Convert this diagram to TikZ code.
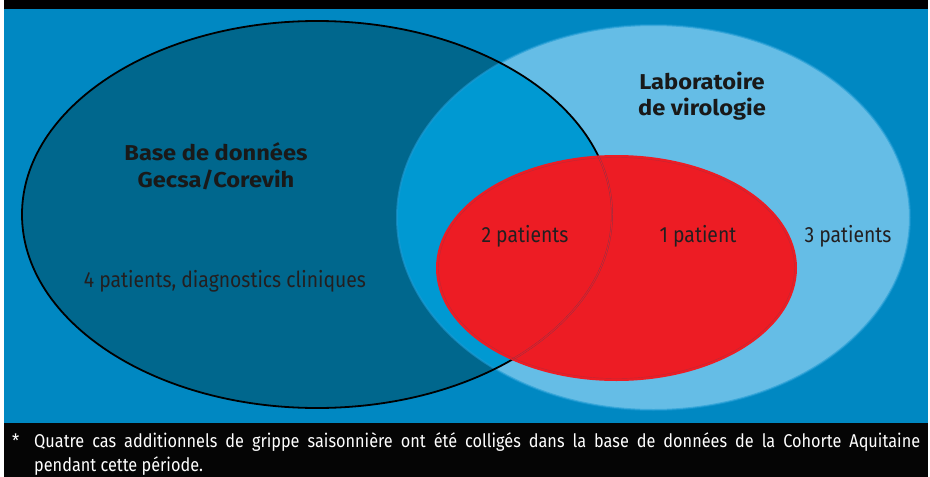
\documentclass[tikz,border=0pt]{standalone}
\usepackage{fontspec}
\setmainfont{Fira Sans}
\newfontfamily\condfont[FakeStretch=0.88]{Fira Sans}
\newfontfamily\titlefont[FakeStretch=1.1]{Fira Sans}

\definecolor{bgblue}{HTML}{0088C2}
\definecolor{darkset}{HTML}{00678D}
\definecolor{lightset}{HTML}{65BDE6}
\definecolor{bothset}{HTML}{0099D2}
\definecolor{rimblue}{HTML}{1E9AD3}
\definecolor{redset}{HTML}{ED1C24}
\definecolor{labeltext}{HTML}{231F20}
\definecolor{seamline}{HTML}{8C3347}

\begin{document}
\begin{tikzpicture}[x=1pt,y=-1pt,
    title/.style={font=\titlefont\bfseries\fontsize{21.5}{26.5}\selectfont, text=black!90, align=center},
    count/.style={font=\condfont\fontsize{22}{25}\selectfont, text=labeltext, anchor=base},
    note/.style={font=\condfont\fontsize{18.5}{24}\selectfont, text=white, anchor=base west, inner sep=0pt}]
  \useasboundingbox (0,0) rectangle (930,477);

  % frame and bands
  \fill[black] (4,0) rectangle (928,9);
  \fill[bgblue] (4,9) rectangle (928,423);
  \fill[black!98] (4,423) rectangle (928,477);

  % the two sets
  \fill[lightset] (653.5,217.5) ellipse [x radius=256.5pt, y radius=192.5pt];
  \fill[darkset] (317,214.5) ellipse [x radius=295pt, y radius=193.5pt];
  \begin{scope}
    \clip (317,214.5) ellipse [x radius=295pt, y radius=193.5pt];
    \fill[bothset] (653.5,217.5) ellipse [x radius=256.5pt, y radius=192.5pt];
  \end{scope}
  \draw[rimblue, opacity=0.6, line width=2pt] (653.5,217.5) ellipse [x radius=256.5pt, y radius=192.5pt];
  \draw[black, line width=1.8pt] (317,214.5) ellipse [x radius=295pt, y radius=193.5pt];

  % common patients
  \fill[redset] (616.5,268) ellipse [x radius=180.5pt, y radius=113pt];
  \begin{scope}
    \clip (616.5,268) ellipse [x radius=180.5pt, y radius=113pt];
    \draw[seamline, line width=0.4pt, double=redset, double distance=1pt]
      (317,214.5) ellipse [x radius=295pt, y radius=193.5pt];
  \end{scope}
  \draw[seamline, opacity=0.5, line width=0.4pt] (616.5,268) ellipse [x radius=178pt, y radius=110.5pt];

  % labels
  \node[title] (gecsa) at (216,166) {Base de données\\Gecsa/Corevih};
  \node[title] (viro) at (702,96) {Laboratoire\\de virologie};
  \node[count] (clin) at (225,287) {4 patients, diagnostics cliniques};
  \node[count] (both) at (525,242) {2 patients};
  \node[count] (viroonly) at (698,242) {1 patient};
  \node[count] (rest) at (848,242) {3 patients};

  % footnote
  \node[note] (star) at (12,447) {*};
  \node[note] (line1) at (34,447) {\makebox[886pt][s]{Quatre cas additionnels de grippe saisonnière ont été colligés dans la base de données de la Cohorte Aquitaine}};
  \node[note] (line2) at (34,471) {pendant cette période.};
\end{tikzpicture}
\end{document}
